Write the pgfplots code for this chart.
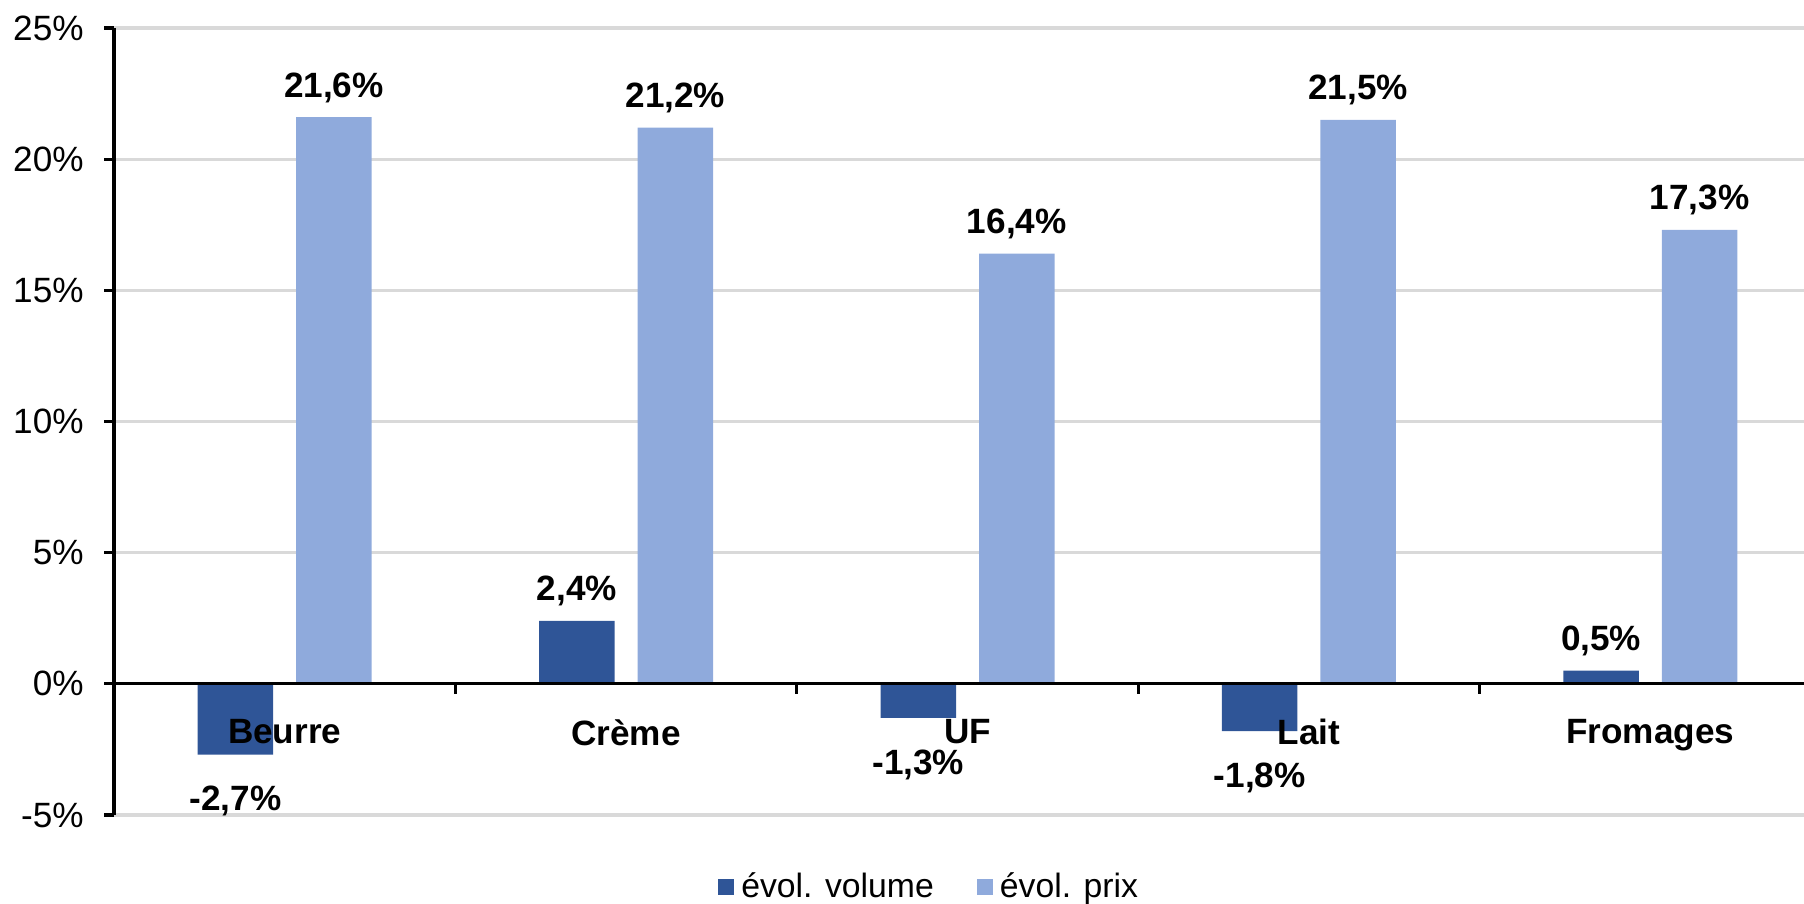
\documentclass[border=0pt]{standalone}
\usepackage{pgfplots}
\pgfplotsset{compat=1.18}
\usepackage{fontspec}
\setmainfont{Liberation Sans}
\definecolor{cvol}{HTML}{2F5597}
\definecolor{cprix}{HTML}{8FAADC}
\definecolor{cgrid}{HTML}{D9D9D9}
\pgfplotsset{
  layers/mylayers/.define layer set={axis background,axis grid,main,axis ticks,axis lines,axis tick labels,axis descriptions,axis foreground}{/pgfplots/layers/standard},
}
\begin{document}
\begin{tikzpicture}
\begin{axis}[
  set layers=mylayers,
  at={(0,0)}, anchor=south west,
  scale only axis,
  width=170.7mm, height=78.7mm,
  xmin=-0.5, xmax=4.5,
  ymin=-5, ymax=25,
  axis x line=middle, axis y line=left,
  axis line style={-, black, line width=0.9pt},
  ytick={-5,0,5,10,15,20,25},
  yticklabel={\pgfmathprintnumber{\tick}\%},
  /pgf/number format/assume math mode=true,
  ymajorgrids, grid style={cgrid, line width=0.9pt},
  tick align=outside,
  major tick length=1mm,
  ytick style={black, line width=0.9pt},
  xtick={0,1,2,3,4},
  xticklabels={Beurre,Crème,UF,Lait,Fromages},
  major x tick style={draw=none},
  minor xtick={0.5,1.5,2.5,3.5},
  minor x tick style={black, line width=0.9pt},
  minor tick length=1mm,
  xticklabel style={font=\fontsize{10}{11}\selectfont\bfseries, yshift=-1.3mm},
  yticklabel style={font=\fontsize{10}{11}\selectfont, xshift=-0.8mm},
  ybar=2.3mm, bar width=7.55mm,
  visualization depends on={y \as \rawy},
  nodes near coords={\pgfmathprintnumber[fixed,fixed zerofill,precision=1,use comma]{\pgfplotspointmeta}\%},
  every node near coord/.append style={font=\fontsize{10}{11}\selectfont\bfseries, black, inner sep=1.4mm, yshift={(\rawy<0)*(-1.7mm)}},
  legend columns=2,
  legend style={draw=none, at={(0.479,-0.092)}, anchor=center, font=\fontsize{9.6}{11}\selectfont, /tikz/every even column/.append style={column sep=3.6mm}},
  legend image code/.code={\fill[#1,draw=none] (0mm,-0.8mm) rectangle (1.6mm,0.8mm);},
]
\addplot[fill=cvol, draw=none] coordinates {(0,-2.7) (1,2.4) (2,-1.3) (3,-1.8) (4,0.5)};
\addplot[fill=cprix, draw=none] coordinates {(0,21.6) (1,21.2) (2,16.4) (3,21.5) (4,17.3)};
\legend{évol. volume, évol. prix}
\end{axis}
\pgfresetboundingbox
\useasboundingbox (-11.4mm,-8.9mm) rectangle (169mm,81.5mm);
\end{tikzpicture}
\end{document}
